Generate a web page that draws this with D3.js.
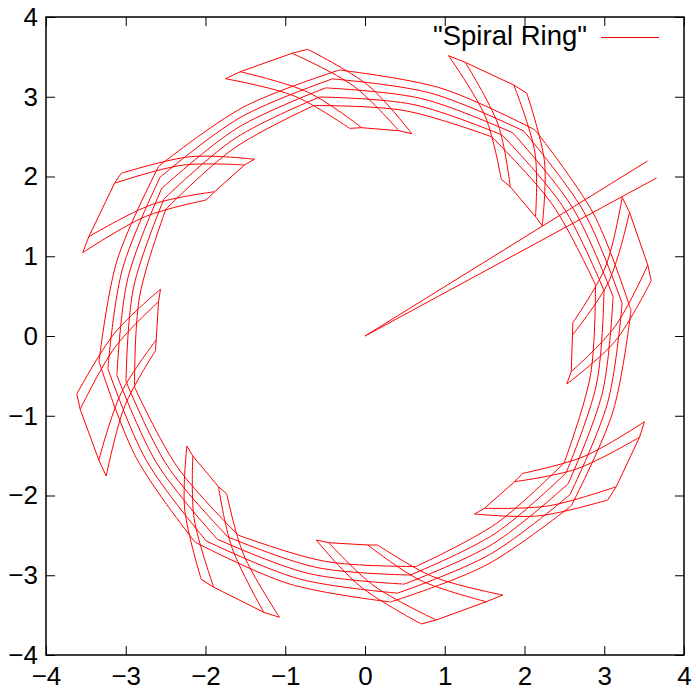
<!DOCTYPE html>
<html>
<head>
<meta charset="utf-8">
<script src="https://cdn.jsdelivr.net/npm/d3@7"></script>
<style>
  html, body { margin: 0; padding: 0; background: #fff; }
  svg { display: block; }
  text { font-family: "Liberation Sans", Arial, Helvetica, sans-serif; }
</style>
</head>
<body>
<svg id="chart" width="696" height="690"></svg>
<script>
// Axis ticks
const xTicks = [-4, -3, -2, -1, 0, 1, 2, 3, 4];
const yTicks = [-4, -3, -2, -1, 0, 1, 2, 3, 4];
const seriesName = '"Spiral Ring"';

// The two spokes from the origin
const spoke = [[3.542, 2.194], [0, 0], [3.655, 1.981]];

// Five circumferential strands, outermost first: corner, mid-run, corner, ...
const strands = [
  [[-0.321, 3.335], [0.950, 3.108], [2.131, 2.585], [2.869, 1.526], [3.335, 0.321], [3.108, -0.950], [2.585, -2.131], [1.526, -2.869],
   [0.321, -3.335], [-0.950, -3.108], [-2.131, -2.585], [-2.869, -1.526], [-3.335, -0.321], [-3.108, 0.950], [-2.585, 2.131], [-1.526, 2.869]],
  [[-0.410, 3.224], [0.830, 3.044], [1.990, 2.570], [2.739, 1.566], [3.224, 0.410], [3.044, -0.830], [2.570, -1.990], [1.566, -2.739],
   [0.410, -3.224], [-0.830, -3.044], [-1.990, -2.570], [-2.739, -1.566], [-3.224, -0.410], [-3.044, 0.830], [-2.570, 1.990], [-1.566, 2.739]],
  [[-0.493, 3.111], [0.714, 2.976], [1.852, 2.548], [2.609, 1.599], [3.111, 0.493], [2.976, -0.714], [2.548, -1.852], [1.599, -2.609],
   [0.493, -3.111], [-0.714, -2.976], [-1.852, -2.548], [-2.609, -1.599], [-3.111, -0.493], [-2.976, 0.714], [-2.548, 1.852], [-1.599, 2.609]],
  [[-0.569, 2.997], [0.604, 2.903], [1.717, 2.521], [2.480, 1.626], [2.997, 0.569], [2.903, -0.604], [2.521, -1.717], [1.626, -2.480],
   [0.569, -2.997], [-0.604, -2.903], [-1.717, -2.521], [-2.480, -1.626], [-2.997, -0.569], [-2.903, 0.604], [-2.521, 1.717], [-1.626, 2.480]],
  [[-0.641, 2.890], [0.498, 2.826], [1.590, 2.497], [2.351, 1.646], [2.890, 0.641], [2.826, -0.498], [2.497, -1.590], [1.646, -2.351],
   [0.641, -2.890], [-0.498, -2.826], [-1.590, -2.497], [-2.351, -1.646], [-2.890, -0.641], [-2.826, 0.498], [-2.497, 1.590], [-1.646, 2.351]]
];

// Twisted patches: outer-rim nodes, inner-rim nodes and the bend of each
// cross line between them, paired by index
const patchOuter = [
  [[-1.749, 3.226], [-1.565, 3.314], [-0.913, 3.545], [-0.717, 3.595]],
  [[1.047, 3.515], [1.256, 3.432], [1.866, 3.147], [2.029, 3.043]],
  [[3.225, 1.739], [3.317, 1.551], [3.546, 0.890], [3.589, 0.693]],
  [[3.505, -1.075], [3.442, -1.270], [3.150, -1.890], [3.044, -2.056]],
  [[1.728, -3.248], [1.520, -3.332], [0.893, -3.561], [0.705, -3.611]],
  [[-1.072, -3.527], [-1.269, -3.465], [-1.896, -3.151], [-2.054, -3.051]],
  [[-3.245, -1.755], [-3.338, -1.555], [-3.571, -0.919], [-3.614, -0.727]],
  [[-3.539, 1.045], [-3.463, 1.245], [-3.141, 1.915], [-3.057, 2.040]]
];
const patchMid = [
  [[-0.883, 3.008], [-0.709, 3.054], [-0.140, 3.132], [0.048, 3.135]],
  [[1.510, 2.747], [1.668, 2.654], [2.131, 2.299], [2.251, 2.182]],
  [[3.014, 0.864], [3.059, 0.688], [3.133, 0.117], [3.134, -0.067]],
  [[2.747, -1.510], [2.656, -1.666], [2.300, -2.130], [2.178, -2.255]],
  [[0.851, -3.017], [0.686, -3.059], [0.113, -3.133], [-0.066, -3.134]],
  [[-1.522, -2.741], [-1.668, -2.654], [-2.142, -2.290], [-2.261, -2.171]],
  [[-3.011, -0.875], [-3.054, -0.707], [-3.132, -0.137], [-3.135, 0.041]],
  [[-2.755, 1.497], [-2.665, 1.651], [-2.289, 2.142], [-2.184, 2.249]]
];
const patchInner = [
  [[-0.194, 2.604], [-0.040, 2.612], [0.424, 2.574], [0.587, 2.537]],
  [[1.708, 1.965], [1.821, 1.872], [2.138, 1.496], [2.222, 1.383]],
  [[2.606, 0.167], [2.602, 0.013], [2.586, -0.448], [2.530, -0.602]],
  [[1.979, -1.722], [1.875, -1.827], [1.498, -2.161], [1.373, -2.232]],
  [[0.160, -2.621], [0.035, -2.621], [-0.454, -2.592], [-0.612, -2.558]],
  [[-1.733, -1.981], [-1.837, -1.890], [-2.159, -1.505], [-2.234, -1.379]],
  [[-2.627, -0.184], [-2.618, -0.050], [-2.589, 0.430], [-2.564, 0.586]],
  [[-1.991, 1.705], [-1.887, 1.809], [-1.511, 2.144], [-1.386, 2.216]]
];

const plot = { left: 46, right: 684, top: 17, bottom: 655 };
const svg = d3.select("#chart");

const x = d3.scaleLinear().domain([-4, 4]).range([plot.left, plot.right]);
const y = d3.scaleLinear().domain([-4, 4]).range([plot.bottom, plot.top]);

const RED = "#ff0000";
const line = d3.line().x(d => x(d[0])).y(d => y(d[1]));
const bend = d3.line().x(d => x(d[0])).y(d => y(d[1])).curve(d3.curveCatmullRom.alpha(0.5));

const g = svg.append("g").attr("fill", "none").attr("stroke", RED).attr("stroke-width", 1);

// strands: each run between two corners bows outward through its mid point
strands.forEach(pts => {
  const n = pts.length;
  let d = "";
  for (let i = 0; i < n; i += 2) {
    d += bend([pts[i], pts[i + 1], pts[(i + 2) % n]]);
  }
  g.append("path").attr("class", "strand").attr("d", d);
});

// patch rims and cross lines
patchOuter.forEach((outer, i) => {
  const inner = patchInner[i];
  const mid = patchMid[i];
  g.append("path").attr("d", line(outer));
  g.append("path").attr("d", line(inner));
  outer.forEach((p, j) => g.append("path").attr("d", bend([p, mid[j], inner[j]])));
});

// spokes
g.append("path").attr("d", line(spoke));

// axes: ticks inside, mirrored on all four sides
const tickLen = 9;
const bottomAxis = d3.axisBottom(x).tickValues(xTicks).tickSizeInner(-tickLen).tickSizeOuter(0).tickPadding(12).tickFormat(d3.format("d"));
const topAxis = d3.axisTop(x).tickValues(xTicks).tickSizeInner(-tickLen).tickSizeOuter(0).tickFormat("");
const leftAxis = d3.axisLeft(y).tickValues(yTicks).tickSizeInner(-tickLen).tickSizeOuter(0).tickPadding(8).tickFormat(d3.format("d"));
const rightAxis = d3.axisRight(y).tickValues(yTicks).tickSizeInner(-tickLen).tickSizeOuter(0).tickFormat("");

const fontSize = 26;
function styleAxis(sel) {
  sel.select(".domain").remove();
  sel.selectAll(".tick line").attr("stroke", "#000").attr("stroke-width", 1);
  sel.selectAll(".tick text").attr("fill", "#000").attr("font-size", fontSize)
    .attr("font-family", '"Liberation Sans", Arial, sans-serif');
}
const axisG = svg.append("g");
axisG.append("g").attr("transform", `translate(0,${plot.bottom})`).call(bottomAxis).call(styleAxis);
axisG.append("g").attr("transform", `translate(0,${plot.top})`).call(topAxis).call(styleAxis);
axisG.append("g").attr("transform", `translate(${plot.left},0)`).call(leftAxis).call(styleAxis);
axisG.append("g").attr("transform", `translate(${plot.right},0)`).call(rightAxis).call(styleAxis);

// frame
svg.append("rect")
  .attr("x", plot.left).attr("y", plot.top)
  .attr("width", plot.right - plot.left).attr("height", plot.bottom - plot.top)
  .attr("fill", "none").attr("stroke", "#000").attr("stroke-width", 1.5);

// key
svg.append("text").attr("x", 587).attr("y", 45).attr("text-anchor", "end")
  .attr("font-size", 27.5).attr("fill", "#000").text(seriesName);
svg.append("line").attr("x1", 601).attr("x2", 659).attr("y1", 37.5).attr("y2", 37.5)
  .attr("stroke", RED).attr("stroke-width", 1);
</script>
</body>
</html>
